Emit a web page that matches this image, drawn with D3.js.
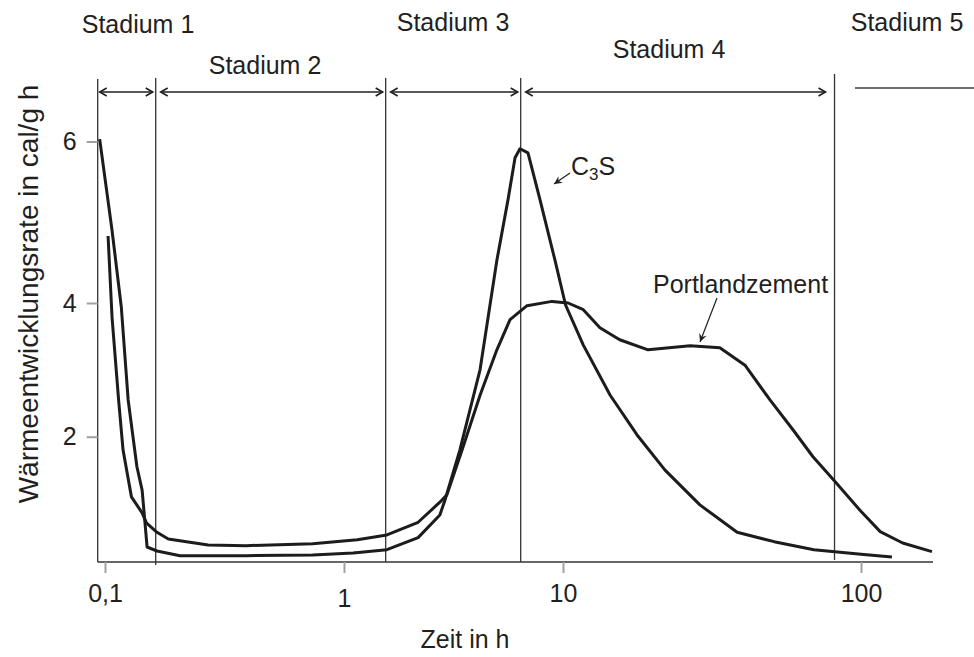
<!DOCTYPE html>
<html>
<head>
  <meta charset="utf-8">
  <title>Wärmeentwicklung</title>
  <script src="https://cdn.jsdelivr.net/npm/d3@7"></script>
  <style>
    body { margin: 0; background: #fff; }
    text { font-family: "Liberation Sans", Arial, sans-serif; fill: #231f20; }
  </style>
</head>
<body>
<svg id="chart" width="974" height="657"></svg>
<script>
  // values
  const xTicks = [0.1, 1, 10, 100];
  const xTickLabels = ["0,1", "1", "10", "100"];
  const yTicks = [2, 4, 6];
  const stageNames = ["Stadium 1", "Stadium 2", "Stadium 3", "Stadium 4", "Stadium 5"];
  const stageBounds = [0.163, 1.55, 6.41, 81.5];

  const c3sTime = [0.095, 0.107, 0.117, 0.125, 0.136, 0.143, 0.147, 0.150, 0.165, 0.206, 0.39, 0.74, 1.1, 1.57,
    2.18, 2.74, 2.89, 3.38, 4.18, 4.99, 5.61, 6.04, 6.36, 6.92, 7.85, 9.19, 10.2, 11.7, 14.4, 17.7, 22.0, 28.8,
    38.4, 51.1, 69.5, 100, 127];
  const c3sRate = [6.03, 4.90, 3.94, 2.55, 1.55, 1.20, 0.71, 0.35, 0.29, 0.22, 0.22, 0.23, 0.26, 0.31,
    0.49, 0.83, 1.05, 1.80, 3.00, 4.53, 5.28, 5.80, 5.91, 5.86, 5.28, 4.53, 3.97, 3.37, 2.62, 2.03, 1.50, 0.98,
    0.57, 0.43, 0.31, 0.24, 0.20];

  const pzTime = [0.103, 0.107, 0.114, 0.119, 0.129, 0.143, 0.149, 0.165, 0.184, 0.27, 0.39, 0.74, 1.15, 1.57,
    2.18, 2.74, 2.95, 3.46, 4.18, 4.99, 5.73, 6.85, 8.91, 10.4, 11.7, 13.3, 15.5, 19.3, 26.7, 33.6, 40.8, 49.5,
    59.2, 69.0, 81.1, 99.2, 116, 138, 173];
  const pzRate = [4.83, 3.79, 2.55, 1.80, 1.10, 0.86, 0.71, 0.57, 0.47, 0.38, 0.37, 0.40, 0.46, 0.53,
    0.72, 1.02, 1.13, 1.80, 2.62, 3.30, 3.75, 3.96, 4.02, 4.00, 3.90, 3.63, 3.45, 3.30, 3.36, 3.33, 3.07, 2.55,
    2.10, 1.70, 1.35, 0.90, 0.58, 0.41, 0.28];

  const svg = d3.select('#chart');
  const axisX0 = 97.7, axisX1 = 933, axisY = 562, axisTop = 79;

  // the drawing's axes are not evenly spaced, so piecewise scales
  const x = d3.scaleLog().domain(xTicks).range([105, 344, 563, 861]);
  const y = d3.scaleLinear().domain(yTicks).range([436.7, 303, 141.5]);

  const ink = '#231f20';

  // axis lines
  svg.append('line')
    .attr('x1', axisX0).attr('x2', axisX0).attr('y1', axisTop).attr('y2', axisY)
    .attr('stroke', '#333').attr('stroke-width', 1.3);
  svg.append('line')
    .attr('x1', axisX0).attr('x2', axisX1).attr('y1', axisY).attr('y2', axisY)
    .attr('stroke', '#333').attr('stroke-width', 1.3);

  const gx = svg.append('g')
    .attr('transform', `translate(0,${axisY})`)
    .call(d3.axisBottom(x).tickValues(xTicks).tickFormat((d, i) => xTickLabels[i])
      .tickSize(11).tickPadding(11));
  gx.select('.domain').remove();
  gx.selectAll('.tick line').attr('stroke', '#a0a0a0').attr('stroke-width', 2);
  gx.selectAll('.tick text').attr('font-size', 25).attr('font-family', null).attr('fill', ink)
    .filter(d => d === 1).attr('y', 27);

  const gy = svg.append('g')
    .attr('transform', `translate(${axisX0},0)`)
    .call(d3.axisLeft(y).tickValues(yTicks).tickFormat(d3.format('d')).tickSize(11).tickPadding(10));
  gy.select('.domain').remove();
  gy.selectAll('.tick line').attr('stroke', '#a0a0a0').attr('stroke-width', 2);
  gy.selectAll('.tick text').attr('font-size', 25).attr('font-family', null).attr('fill', ink);

  // stage boundaries
  svg.selectAll('.bound')
    .data(stageBounds)
    .join('line')
    .attr('class', 'bound')
    .attr('x1', d => x(d)).attr('x2', d => x(d))
    .attr('y1', (d, i) => i === 3 ? 74 : 78)
    .attr('y2', (d, i) => i === 0 ? 565 : (i === 3 ? 560 : axisY))
    .attr('stroke', '#333').attr('stroke-width', 1.3);

  // double arrows between the stage boundaries
  const edges = [axisX0].concat(stageBounds.map(d => x(d)));
  const arrowY = 92;
  const arrows = svg.append('g').attr('fill', 'none').attr('stroke', ink).attr('stroke-width', 1.6);
  for (let i = 0; i < 4; i++) {
    const a = edges[i] + (i === 0 ? 2 : 5), b = edges[i + 1] - (i === 3 ? 9 : 3);
    arrows.append('line').attr('x1', a).attr('x2', b).attr('y1', arrowY).attr('y2', arrowY);
    arrows.append('path').attr('d', `M${a + 7},${arrowY - 4}L${a},${arrowY}L${a + 7},${arrowY + 4}`);
    arrows.append('path').attr('d', `M${b - 7},${arrowY - 4}L${b},${arrowY}L${b - 7},${arrowY + 4}`);
  }
  svg.append('line')
    .attr('x1', 855).attr('x2', 974).attr('y1', 88).attr('y2', 88)
    .attr('stroke', '#6e6e6e').attr('stroke-width', 2);

  // stage labels
  const stagePos = [[138, 33], [265, 74], [453, 31], [669, 58], [907, 31]];
  svg.selectAll('.stage')
    .data(stageNames)
    .join('text')
    .attr('class', 'stage')
    .attr('x', (d, i) => stagePos[i][0])
    .attr('y', (d, i) => stagePos[i][1])
    .attr('text-anchor', 'middle')
    .attr('font-size', 25)
    .text(d => d);

  // curves
  const line = d3.line().x(d => x(d[0])).y(d => y(d[1]));
  const series = [d3.zip(c3sTime, c3sRate), d3.zip(pzTime, pzRate)];
  svg.selectAll('.curve')
    .data(series)
    .join('path')
    .attr('class', 'curve')
    .attr('d', line)
    .attr('fill', 'none')
    .attr('stroke', '#1c1c1c')
    .attr('stroke-width', 3)
    .attr('stroke-linejoin', 'round');

  // curve labels with pointer arrows
  const c3s = svg.append('text').attr('x', 571).attr('y', 175).attr('font-size', 25);
  c3s.append('tspan').text('C');
  c3s.append('tspan').attr('font-size', 17).attr('dy', 5).text('3');
  c3s.append('tspan').attr('dy', -5).text('S');

  svg.append('text').attr('x', 653).attr('y', 293).attr('font-size', 25).text('Portlandzement');

  function pointer(x1, y1, x2, y2) {
    const ang = Math.atan2(y2 - y1, x2 - x1), L = 9, w = 0.45;
    svg.append('line').attr('x1', x1).attr('y1', y1).attr('x2', x2).attr('y2', y2)
      .attr('stroke', ink).attr('stroke-width', 1.2);
    svg.append('path')
      .attr('d', `M${x2},${y2}L${x2 - L * Math.cos(ang - w)},${y2 - L * Math.sin(ang - w)}` +
        `L${x2 - L * 0.6 * Math.cos(ang)},${y2 - L * 0.6 * Math.sin(ang)}` +
        `L${x2 - L * Math.cos(ang + w)},${y2 - L * Math.sin(ang + w)}Z`)
      .attr('fill', ink);
  }
  pointer(570, 173, 554, 184);
  pointer(717, 298, 700, 342);

  // axis titles
  svg.append('text')
    .attr('x', 465).attr('y', 648)
    .attr('text-anchor', 'middle').attr('font-size', 25)
    .text('Zeit in h');
  svg.append('text')
    .attr('transform', 'translate(38,294) rotate(-90)')
    .attr('text-anchor', 'middle').attr('font-size', 28)
    .text('Wärmeentwicklungsrate in cal/g h');
</script>
</body>
</html>
